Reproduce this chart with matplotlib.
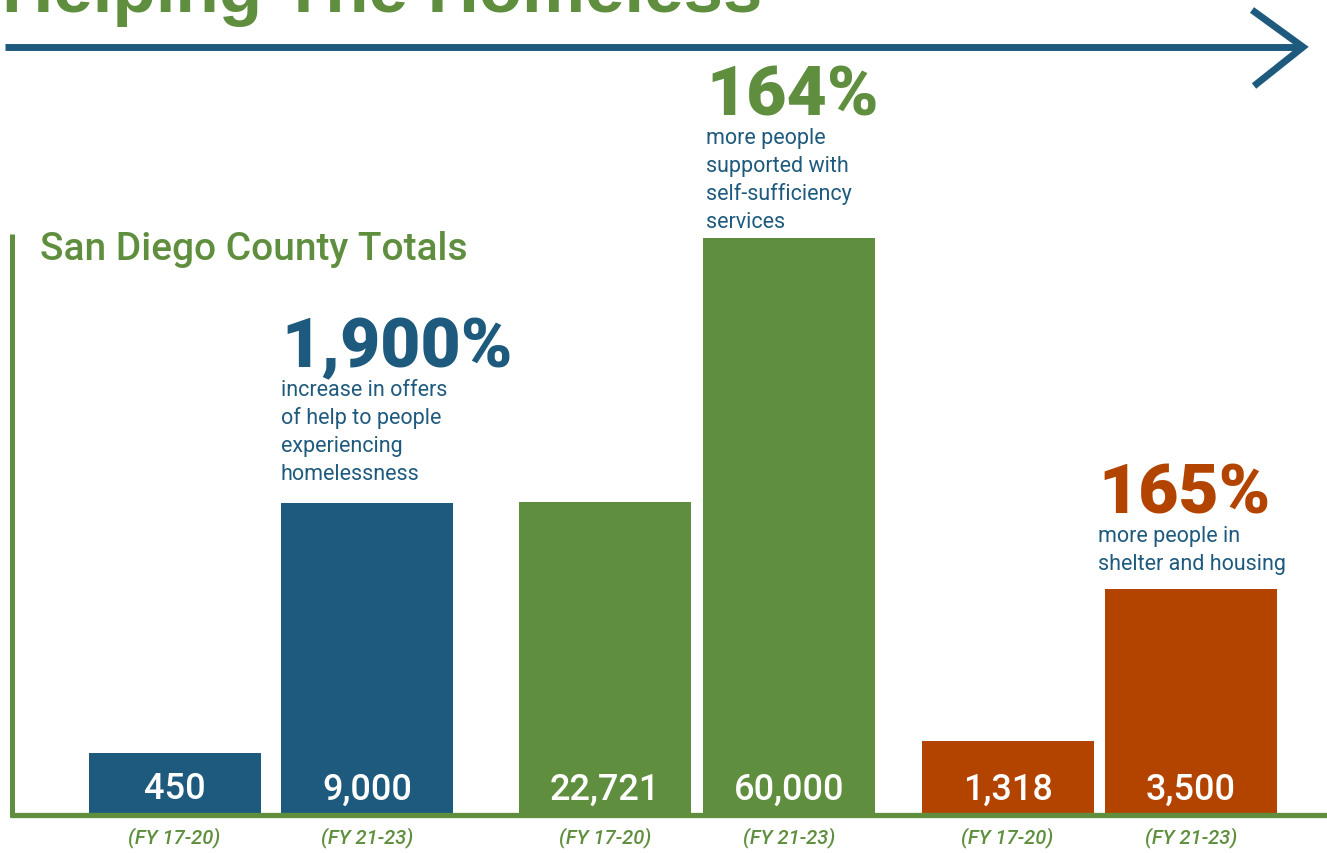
import matplotlib
matplotlib.use("Agg")
from matplotlib import pyplot as plt

# data
periods = ["(FY 17-20)", "(FY 21-23)", "(FY 17-20)", "(FY 21-23)", "(FY 17-20)", "(FY 21-23)"]
values = [450, 9000, 22721, 60000, 1318, 3500]
value_labels = ["450", "9,000", "22,721", "60,000", "1,318", "3,500"]
# bars in the infographic are not drawn to one scale; visual heights
bar_heights = [61, 311, 312, 576, 73, 225]
headlines = ["1,900%", "164%", "165%"]
notes = [
    ["increase in offers", "of help to people", "experiencing", "homelessness"],
    ["more people", "supported with", "self-sufficiency", "services"],
    ["more people in", "shelter and housing"],
]

blue = "#1e5a7d"
green = "#5f8f3e"
orange = "#b34400"
group_colors = [blue, green, orange]
bar_colors = [blue, blue, green, green, orange, orange]

W, H = 1327, 854
BASE = 815  # pixel row of the baseline


def py(p):
    return BASE - p


fig = plt.figure(figsize=(W / 100, H / 100), dpi=100)
ax = fig.add_axes([0, 0, 1, 1])
ax.set_xlim(0, W)
ax.set_ylim(BASE - H, BASE)
ax.axis("off")

x_pos = [174.5, 367, 605, 789, 1007.5, 1191]
ax.bar(x_pos, bar_heights, width=172, color=bar_colors, zorder=2)

for x, lab in zip(x_pos, value_labels):
    ax.text(x, py(790), lab, color="white", fontsize=26, fontweight="medium",
            family="Roboto", ha="center", va="center", zorder=3)
for x, p in zip(x_pos, periods):
    ax.text(x, py(838), p, color=green, fontsize=14.5, style="italic", fontweight="medium",
            family="Roboto", ha="center", va="center")

# axis lines
ax.plot([12, 12], [py(235), py(818)], color=green, lw=3.6, solid_capstyle="butt")
ax.plot([10, W], [py(816), py(816)], color=green, lw=3.8, solid_capstyle="butt")

# headline annotations
head_x = [281, 706, 1098]
head_base = [367, 116, 513]
note_base = [396, 144, 542]
for i in range(3):
    ax.text(head_x[i], py(head_base[i]), headlines[i], color=group_colors[i],
            fontsize=50, fontweight="black", family="Roboto", ha="left", va="baseline")
    for j, line in enumerate(notes[i]):
        ax.text(head_x[i], py(note_base[i] + 28 * j), line, color=blue,
                fontsize=15.5, family="Roboto", ha="left", va="baseline")

ax.text(40, py(260), "San Diego County Totals", color=green, fontsize=28,
        fontweight="medium", family="Roboto", ha="left", va="baseline")

# title cut off at the top edge, as in the original
ax.text(2, py(12), "Helping The Homeless", color=green, fontsize=51,
        fontweight="bold", family="Liberation Sans", ha="left", va="baseline")

# arrow
ax.plot([5, 1303], [py(48), py(48)], color=blue, lw=5, solid_capstyle="butt")
ax.plot([1252, 1303, 1254], [py(11), py(48), py(87)], color=blue, lw=5,
        solid_joinstyle="miter", solid_capstyle="butt")

fig.savefig("out.png", dpi=100)
